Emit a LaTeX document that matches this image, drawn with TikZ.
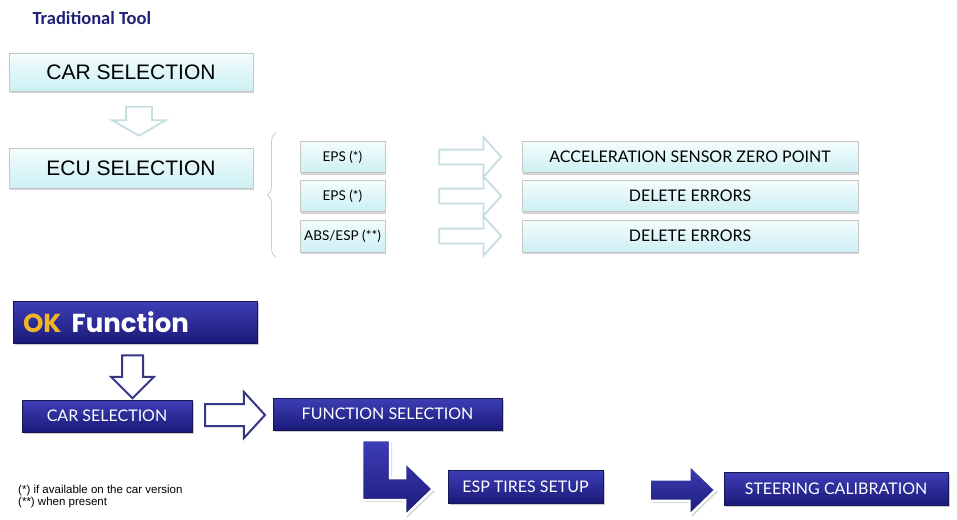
\documentclass[tikz,border=0pt]{standalone}
\usepackage{fontspec}
\setmainfont{Liberation Sans}
\newfontfamily\lightfont{Lato}
\newfontfamily\titlefont{Carlito}
\newfontfamily\okfont{Poppins}
\usetikzlibrary{shapes.arrows,shadows,decorations.pathreplacing}

\definecolor{navy}{RGB}{32,32,120}
\definecolor{boxtop}{RGB}{244,252,253}
\definecolor{boxbot}{RGB}{204,240,245}
\definecolor{paleline}{RGB}{196,222,226}
\definecolor{bluetop}{RGB}{62,62,182}
\definecolor{bluebot}{RGB}{26,26,122}
\definecolor{okgold}{RGB}{240,180,40}

\begin{document}
\begin{tikzpicture}[x=1pt, y=-1pt,
		lightbox/.style={draw=gray!45, top color=boxtop, bottom color=boxbot, inner sep=0pt,
			drop shadow={opacity=0.35, shadow xshift=1pt, shadow yshift=-2pt}},
		bluebox/.style={draw=navy!70!black, top color=bluetop, bottom color=bluebot, text=white, inner sep=0pt,
			font=\lightfont\fontsize{16}{18}\selectfont,
			drop shadow={opacity=0.4, shadow xshift=2pt, shadow yshift=-2pt}},
		blockarrow/.style n args={3}{single arrow, inner xsep=0pt, inner ysep=#2, minimum height=#1, single arrow head extend=#3},
		palearrow/.style={draw=paleline, line width=1.8pt, fill=white},
		hollowarrow/.style={draw=navy!90, line width=2pt, fill=white},
		solidarrow/.style={draw=white, line width=2.5pt, top color=bluetop, bottom color=bluebot,
			drop shadow={opacity=0.35, shadow xshift=2pt, shadow yshift=-2pt}},
		big/.style={font=\fontsize{21}{24}\selectfont},
		small/.style={font=\lightfont\fontsize{16}{18}\selectfont},
		tiny/.style={font=\lightfont\fontsize{13.5}{16}\selectfont}]

	\useasboundingbox (0,0) rectangle (957,519);

	% traditional tool
	\node[anchor=west, text=navy, font=\titlefont\bfseries\fontsize{18.5}{22}\selectfont] (title) at (29,18) {Traditional Tool};

	\node[lightbox, big, minimum width=244pt, minimum height=38pt] (carsel) at (131,72) {CAR SELECTION};
	\node[lightbox, big, minimum width=244pt, minimum height=40pt] (ecusel) at (131,168) {ECU SELECTION};
	\node[blockarrow={29pt}{12pt}{14pt}, palearrow, rotate=-90, single arrow tip angle=120] (down1) at (139,117.5) {};

	\draw[gray!40, line width=0.8pt, decorate, decoration={brace, amplitude=9pt}] (276,257) -- (276,133);

	\node[lightbox, tiny, minimum width=85pt, minimum height=31pt] (eps1) at (342.5,157) {EPS (*)};
	\node[lightbox, tiny, minimum width=85pt, minimum height=31pt] (eps2) at (342.5,196) {EPS (*)};
	\node[lightbox, tiny, minimum width=85pt, minimum height=32pt] (abs) at (342.5,236) {ABS/ESP (**)};

	\node[lightbox, small, minimum width=336pt, minimum height=31pt] (acc) at (690,157) {ACCELERATION SENSOR ZERO POINT};
	\node[lightbox, small, minimum width=336pt, minimum height=31pt] (del1) at (690,196) {DELETE ERRORS};
	\node[lightbox, small, minimum width=336pt, minimum height=32pt] (del2) at (690,236) {DELETE ERRORS};

	\foreach \y/\n in {157/a1, 196/a2, 236/a3}
		\node[blockarrow={62pt}{6.5pt}{12.5pt}, palearrow, single arrow tip angle=96] (\n) at (467,\y) {};

	% ok function
	\node[bluebox, minimum width=244pt, minimum height=42pt, text width=224pt, align=left,
		font=\okfont\bfseries\fontsize{26}{28}\selectfont] (okfn) at (135,322) {\textcolor{okgold}{OK}\hspace{10pt}Function};
	\node[blockarrow={43pt}{9.5pt}{11pt}, hollowarrow, rotate=-90] (down2) at (132.5,371.5) {};

	\node[bluebox, minimum width=170pt, minimum height=32pt] (carsel2) at (107,416) {CAR SELECTION};
	\node[blockarrow={60pt}{10pt}{12pt}, hollowarrow, single arrow tip angle=95] (right1) at (230,415) {};
	\node[bluebox, minimum width=229pt, minimum height=32pt] (funcsel) at (387.5,414) {FUNCTION SELECTION};

	\draw[solidarrow] (362,440) -- (390,440) -- (390,478) -- (405,478) -- (405,462) -- (433,489)
		-- (405,516) -- (405,500) -- (362,500) -- cycle;

	\node[bluebox, minimum width=155pt, minimum height=33pt] (esp) at (525.5,486.5) {ESP TIRES SETUP};
	\node[blockarrow={66pt}{9.5pt}{14.5pt}, solidarrow, single arrow tip angle=88] (right2) at (677,490) {};
	\node[bluebox, minimum width=224pt, minimum height=33pt] (steer) at (836,488.5) {STEERING CALIBRATION};

	\node[anchor=north west, align=left, inner sep=0pt, font=\fontsize{11.5}{12}\selectfont] (notes) at (18,485)
		{(*) if available on the car version\\(**) when present};
\end{tikzpicture}
\end{document}
